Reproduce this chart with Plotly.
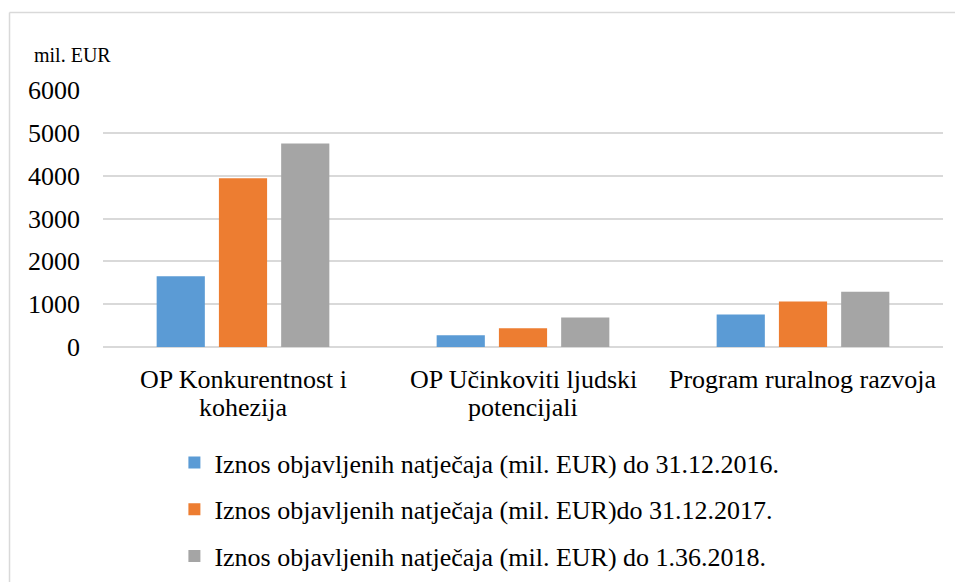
import plotly.graph_objects as go

categories = ["OP Konkurentnost i kohezija", "OP Učinkoviti ljudski potencijali", "Program ruralnog razvoja"]
cat_lines = [["OP Konkurentnost i", "kohezija"], ["OP Učinkoviti ljudski", "potencijali"], ["Program ruralnog razvoja"]]
series_names = [
    "Iznos objavljenih natječaja (mil. EUR) do 31.12.2016.",
    "Iznos objavljenih natječaja (mil. EUR)do 31.12.2017.",
    "Iznos objavljenih natječaja (mil. EUR) do 1.36.2018.",
]
vals_2016 = [1650, 275, 760]
vals_2017 = [3940, 440, 1060]
vals_2018 = [4750, 690, 1290]
colors = ["#5B9BD5", "#ED7D31", "#A5A5A5"]
y_ticks = [0, 1000, 2000, 3000, 4000, 5000, 6000]

FONT = "'Liberation Serif', 'Times New Roman', Times, serif"

fig = go.Figure()
for i, (name, vals) in enumerate(zip(series_names, [vals_2016, vals_2017, vals_2018])):
    fig.add_trace(go.Bar(
        x=categories, y=vals, name=name,
        marker=dict(color=colors[i], line=dict(width=0)),
        legendgroup=f"g{i}",
    ))

annotations = []
for c, lines in zip(categories, cat_lines):
    for j, ln in enumerate(lines):
        annotations.append(dict(
            x=c, xref="x", y=-0.125 - j * 0.109, yref="paper",
            text=ln, showarrow=False, xanchor="center", yanchor="middle",
            font=dict(family=FONT, size=26, color="#000000"),
        ))
annotations.append(dict(
    x=-0.0845, xref="paper", y=1.136, yref="paper", text="mil. EUR",
    showarrow=False, xanchor="left", yanchor="middle",
    font=dict(family=FONT, size=20, color="#000000"),
))

fig.update_layout(
    width=955, height=582,
    margin=dict(l=103, r=12, t=90, b=235, autoexpand=False),
    paper_bgcolor="white", plot_bgcolor="white",
    barmode="group", bargap=0.333, bargroupgap=0.226,
    font=dict(family=FONT, size=26, color="#000000"),
    showlegend=True,
    legend=dict(
        x=0.085, y=-0.358, xanchor="left", yanchor="top",
        orientation="v", traceorder="grouped", tracegroupgap=10,
        font=dict(family=FONT, size=26, color="#000000"),
        bgcolor="rgba(0,0,0,0)", itemwidth=30,
    ),
    annotations=annotations,
    shapes=[
        dict(type="line", xref="paper", yref="paper", x0=-0.1113, x1=-0.1113, y0=-1.0, y1=1.3016,
             line=dict(color="#d9d9d9", width=1.5)),
        dict(type="line", xref="paper", yref="paper", x0=-0.1113, x1=1.2, y0=1.3016, y1=1.3016,
             line=dict(color="#d9d9d9", width=1.5)),
    ],
)
fig.update_xaxes(showticklabels=False, showgrid=False, zeroline=False, showline=False)
fig.update_yaxes(
    range=[0, 6000], tickvals=y_ticks, showgrid=True, gridcolor="#d9d9d9", gridwidth=1.5,
    zeroline=True, zerolinecolor="#d9d9d9", zerolinewidth=1.5, showline=False,
    ticklabelstandoff=22, tickfont=dict(family=FONT, size=26, color="#000000"),
)

fig.write_html("out.html", config={"displayModeBar": False},
               post_script="document.body.style.margin='0';document.body.style.padding='0';")
